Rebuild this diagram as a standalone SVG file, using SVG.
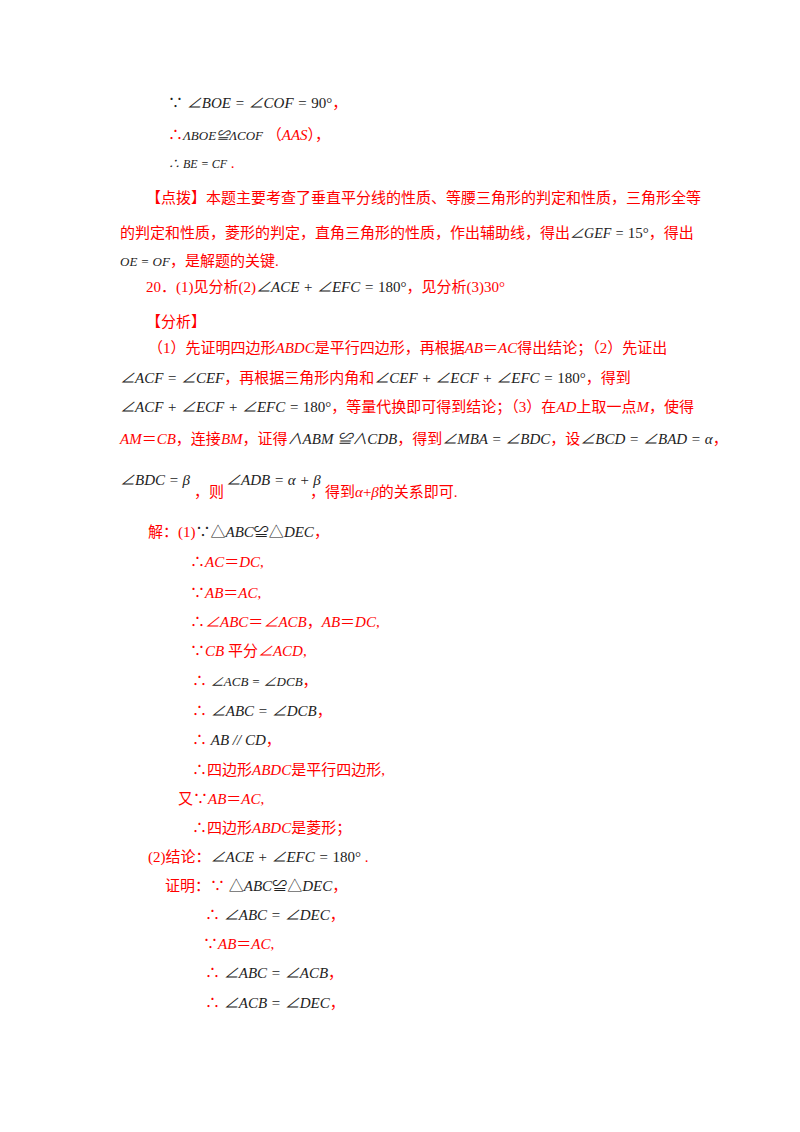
<svg xmlns="http://www.w3.org/2000/svg" width="800" height="1132" viewBox="0 0 800 1132">
<style>
text{font-family:"Liberation Serif","Noto Sans CJK SC",serif;font-size:15px;fill:#ff0000}
.m{font-style:italic;fill:#222}
.n{font-style:normal;fill:#222}
.r{font-style:italic;fill:#ff0000}
</style>
<rect width="800" height="1132" fill="#fff"/>
<text x="168" y="108"><tspan class="n">∵ </tspan><tspan class="m">∠BOE = ∠COF = </tspan><tspan class="n">90°</tspan>，</text>
<text x="168" y="140">∴<tspan class="m" font-size="13">ΛBOE≌ΛCOF</tspan> （<tspan class="r">AAS</tspan>），</text>
<text x="168" y="168"><tspan class="m" font-size="12">∴ BE = CF</tspan> .</text>
<text x="146" y="203">【点拨】本题主要考查了垂直平分线的性质、等腰三角形的判定和性质，三角形全等</text>
<text x="120" y="238">的判定和性质，菱形的判定，直角三角形的性质，作出辅助线，得出<tspan class="m" font-size="14">∠GEF = </tspan><tspan class="n">15°</tspan>，得出</text>
<text x="120" y="266"><tspan class="m" font-size="13">OE = OF</tspan>，是解题的关键.</text>
<text x="146" y="292">20．(1)见分析(2)<tspan class="m">∠ACE + ∠EFC = </tspan><tspan class="n">180°</tspan>，见分析(3)30°</text>
<text x="146" y="327">【分析】</text>
<text x="148" y="353">（1）先证明四边形<tspan font-style="italic">ABDC</tspan>是平行四边形，再根据<tspan font-style="italic">AB</tspan>＝<tspan font-style="italic">AC</tspan>得出结论；（2）先证出</text>
<text x="120" y="383"><tspan class="m">∠ACF = ∠CEF</tspan>，再根据三角形内角和<tspan class="m">∠CEF + ∠ECF + ∠EFC = </tspan><tspan class="n">180°</tspan>，得到</text>
<text x="120" y="412"><tspan class="m">∠ACF + ∠ECF + ∠EFC = </tspan><tspan class="n">180°</tspan>，等量代换即可得到结论；（3）在<tspan font-style="italic">AD</tspan>上取一点<tspan font-style="italic">M</tspan>，使得</text>
<text x="120" y="444"><tspan font-style="italic">AM</tspan>＝<tspan font-style="italic">CB</tspan>，连接<tspan font-style="italic">BM</tspan>，证得<tspan class="m">∧ABM ≌∧CDB</tspan>，得到<tspan class="m">∠MBA = ∠BDC</tspan>，设<tspan class="m">∠BCD = ∠BAD = α</tspan>，</text>
<text x="120" y="485" class="m">∠BDC = β</text>
<text x="194" y="497">，则</text>
<text x="226" y="485" class="m">∠ADB = α + β</text>
<text x="310" y="497">，得到<tspan font-style="italic">α</tspan>+<tspan font-style="italic">β</tspan>的关系即可.</text>
<text x="148" y="537">解：(1)<tspan class="n">∵△</tspan><tspan class="m">ABC</tspan><tspan class="n">≌△</tspan><tspan class="m">DEC</tspan>，</text>
<text x="190" y="567">∴<tspan font-style="italic">AC</tspan>＝<tspan font-style="italic">DC</tspan>,</text>
<text x="190" y="598">∵<tspan font-style="italic">AB</tspan>＝<tspan font-style="italic">AC</tspan>,</text>
<text x="190" y="627">∴<tspan font-style="italic">∠ABC</tspan>＝<tspan font-style="italic">∠ACB</tspan>，<tspan font-style="italic">AB</tspan>＝<tspan font-style="italic">DC</tspan>,</text>
<text x="190" y="656">∵<tspan font-style="italic">CB</tspan> 平分<tspan font-style="italic">∠ACD</tspan>,</text>
<text x="192" y="686">∴ <tspan class="m" font-size="13">∠ACB = ∠DCB</tspan>，</text>
<text x="192" y="716">∴ <tspan class="m">∠ABC = ∠DCB</tspan>，</text>
<text x="192" y="745">∴ <tspan class="m">AB // CD</tspan>，</text>
<text x="192" y="775">∴四边形<tspan font-style="italic">ABDC</tspan>是平行四边形,</text>
<text x="178" y="804">又∵<tspan font-style="italic">AB</tspan>＝<tspan font-style="italic">AC</tspan>,</text>
<text x="192" y="833">∴四边形<tspan font-style="italic">ABDC</tspan>是菱形；</text>
<text x="148" y="862">(2)结论：<tspan class="m">∠ACE + ∠EFC = </tspan><tspan class="n">180°</tspan> .</text>
<text x="165" y="891">证明：∵ <tspan class="n">△</tspan><tspan class="m">ABC</tspan><tspan class="n">≌△</tspan><tspan class="m">DEC</tspan>，</text>
<text x="205" y="920">∴ <tspan class="m">∠ABC = ∠DEC</tspan>，</text>
<text x="203" y="949">∵<tspan font-style="italic">AB</tspan>＝<tspan font-style="italic">AC</tspan>,</text>
<text x="205" y="978">∴ <tspan class="m">∠ABC = ∠ACB</tspan>，</text>
<text x="205" y="1008">∴ <tspan class="m">∠ACB = ∠DEC</tspan>，</text>
</svg>
